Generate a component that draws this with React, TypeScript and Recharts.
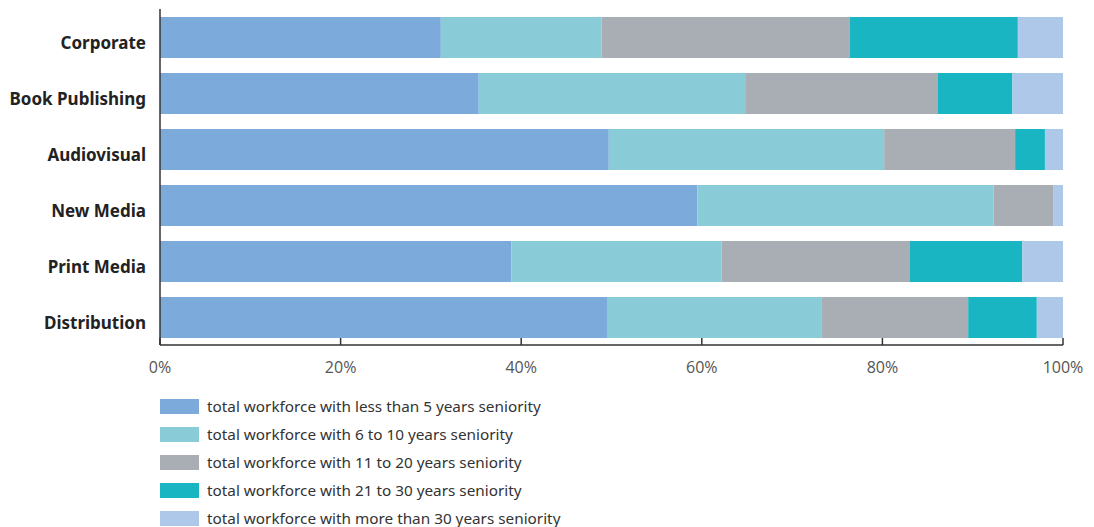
import React from 'react';
import { BarChart, Bar, XAxis, YAxis, Legend } from 'recharts';

const categories = ['Corporate', 'Book Publishing', 'Audiovisual', 'New Media', 'Print Media', 'Distribution'];
const lessThan5 = [31.1, 35.3, 49.7, 59.5, 38.9, 49.5];
const from6to10 = [17.8, 29.5, 30.5, 32.8, 23.3, 23.8];
const from11to20 = [27.5, 21.3, 14.5, 6.6, 20.8, 16.2];
const from21to30 = [18.6, 8.3, 3.3, 0, 12.5, 7.6];
const moreThan30 = [5.0, 5.6, 2.0, 1.1, 4.5, 2.9];
const xTicks = [0, 20, 40, 60, 80, 100];

const seriesNames = [
  'total workforce with less than 5 years seniority',
  'total workforce with 6 to 10 years seniority',
  'total workforce with 11 to 20 years seniority',
  'total workforce with 21 to 30 years seniority',
  'total workforce with more than 30 years seniority',
];
const seriesKeys = ['s1', 's2', 's3', 's4', 's5'];
const seriesColors = ['#7BAADB', '#89CCD7', '#A9ADB4', '#1AB5C2', '#ADC8E8'];

const data = categories.map((name, i) => ({
  name,
  s1: lessThan5[i],
  s2: from6to10[i],
  s3: from11to20[i],
  s4: from21to30[i],
  s5: moreThan30[i],
}));

const XTick = (props: any) => {
  const { x, y, payload } = props;
  return (
    <g>
      <line x1={x} x2={x} y1={y - 7} y2={y} stroke="#333" strokeWidth={1.5} />
      <text x={x} y={y + 28} textAnchor="middle" fill="#555" fontSize={16} fontFamily="'Open Sans', sans-serif">
        {`${payload.value}%`}
      </text>
    </g>
  );
};

const YTick = (props: any) => {
  const { x, y, payload } = props;
  return (
    <text x={x} y={y} dy={12} textAnchor="end" fill="#222" fontSize={17} fontWeight={700} fontFamily="'Noto Sans', sans-serif">
      {payload.value}
    </text>
  );
};

const LegendContent = () => (
  <div style={{ fontFamily: "'Noto Sans', sans-serif", fontSize: 15.3, color: '#333' }}>
    {seriesNames.map((n, i) => (
      <div key={n} style={{ display: 'flex', alignItems: 'center', height: 28 }}>
        <div style={{ width: 39, height: 15, background: seriesColors[i], marginRight: 8 }} />
        <span>{n}</span>
      </div>
    ))}
  </div>
);

export default function App() {
  return (
    <div style={{ position: 'relative', width: 1078, height: 530 }}>
      <BarChart
        width={1078}
        height={530}
        data={data}
        layout="vertical"
        margin={{ top: 1, right: 23, bottom: 163, left: 0 }}
        barSize={41}
      >
        <XAxis
          type="number"
          domain={[0, 100]}
          ticks={xTicks}
          tick={<XTick />}
          tickLine={false}
          tickSize={0}
          tickMargin={0}
          axisLine={{ stroke: '#333', strokeWidth: 1.5 }}
          height={30}
          interval={0}
        />
        <YAxis
          type="category"
          dataKey="name"
          width={152}
          tick={<YTick />}
          tickLine={false}
          tickSize={0}
          tickMargin={14}
          axisLine={{ stroke: '#333', strokeWidth: 1.5 }}
          interval={0}
        />
        <Legend
          layout="vertical"
          align="center"
          verticalAlign="middle"
          content={<LegendContent />}
          wrapperStyle={{ position: 'absolute', left: 152, top: 384, width: 500, height: 140 }}
        />
        {seriesKeys.map((k, i) => (
          <Bar key={k} dataKey={k} name={seriesNames[i]} stackId="a" fill={seriesColors[i]} isAnimationActive={false} />
        ))}
      </BarChart>
    </div>
  );
}
